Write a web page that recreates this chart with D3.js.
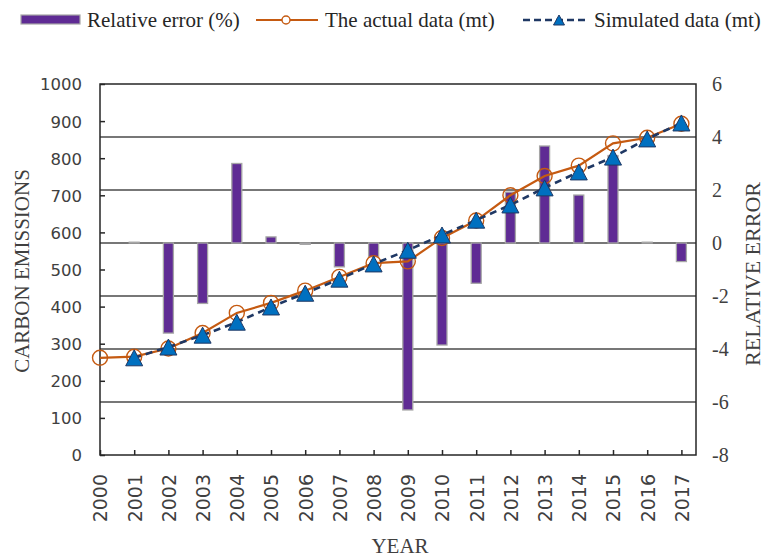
<!DOCTYPE html>
<html>
<head>
<meta charset="utf-8">
<script src="https://cdn.jsdelivr.net/npm/d3@7"></script>
<style>
  body { margin: 0; background: #fff; }
  svg { display: block; }
</style>
</head>
<body>
<script>
// values
var years = [2000, 2001, 2002, 2003, 2004, 2005, 2006, 2007, 2008,
             2009, 2010, 2011, 2012, 2013, 2014, 2015, 2016, 2017];
var actual = [262, 265, 287, 329, 383, 410, 443, 480, 517,
              522, 585, 632, 700, 752, 780, 840, 855, 893];
var simulated = [null, 262, 291, 323, 358, 399, 436, 474, 515,
                 552, 593, 633, 674, 720, 763, 803, 852, 895];
var relErr = [null, 0.03, -3.4, -2.28, 3.0, 0.23, -0.05, -0.9, -0.52,
              -6.3, -3.85, -1.52, 1.92, 3.66, 1.81, 3.3, 0.03, -0.7];
var leftTicks = [0, 100, 200, 300, 400, 500, 600, 700, 800, 900, 1000];
var rightTicks = [-8, -6, -4, -2, 0, 2, 4, 6];

var W = 767, H = 560;
var plot = {left: 100, right: 696, top: 84, bottom: 455};

var orange = "#c55a11", navy = "#1f3864", blue = "#0070c0",
    purple = "#5f2b94", grid = "#4a4a4a";

var svg = d3.select("body").append("svg")
    .attr("width", W)
    .attr("height", H);

var x = d3.scaleLinear()
    .domain([2000, 2000 + (plot.right - plot.left) / 34.2])
    .range([plot.left, plot.right]);
var yL = d3.scaleLinear().domain([0, 1000]).range([plot.bottom, plot.top]);
var yR = d3.scaleLinear().domain([-8, 6]).range([plot.bottom, plot.top]);

// horizontal grid (from right axis)
svg.append("g")
    .selectAll("line")
    .data(rightTicks.filter(d => d > -8 && d < 6))
    .enter().append("line")
        .attr("x1", plot.left).attr("x2", plot.right)
        .attr("y1", d => yR(d)).attr("y2", d => yR(d))
        .attr("stroke", grid)
        .attr("stroke-width", 1.5);

// bars (relative error)
var barW = 10;
svg.append("g")
    .selectAll("rect")
    .data(years.map((y, i) => ({year: y, v: relErr[i]})).filter(d => d.v != null))
    .enter().append("rect")
        .attr("x", d => x(d.year) - barW / 2)
        .attr("y", d => yR(Math.max(0, d.v)))
        .attr("width", barW)
        .attr("height", d => Math.abs(yR(d.v) - yR(0)))
        .attr("fill", purple)
        .attr("stroke", "#a6a6a6")
        .attr("stroke-width", 1.3);

// frame
svg.append("rect")
    .attr("x", plot.left).attr("y", plot.top)
    .attr("width", plot.right - plot.left)
    .attr("height", plot.bottom - plot.top)
    .attr("fill", "none")
    .attr("stroke", "#262626")
    .attr("stroke-width", 1.5);

// left axis
var leftAxis = svg.append("g")
    .attr("transform", "translate(" + plot.left + ",0)")
    .call(d3.axisRight(yL).tickValues(leftTicks).tickSize(5).tickFormat(d => String(d)));
leftAxis.select(".domain").remove();
leftAxis.selectAll("line").attr("stroke", "#262626").attr("stroke-width", 1.5);
leftAxis.selectAll("text")
    .attr("x", -18)
    .attr("text-anchor", "end")
    .attr("dy", "0.36em")
    .style("font-family", "'DejaVu Sans', sans-serif")
    .style("font-size", "16.5px")
    .attr("fill", "#404040");

// right axis labels (plain hyphen minus, as in the picture)
var rightAxis = svg.append("g")
    .attr("transform", "translate(" + plot.right + ",0)")
    .call(d3.axisRight(yR).tickValues(rightTicks).tickSize(0).tickPadding(16).tickFormat(d => String(d)));
rightAxis.select(".domain").remove();
rightAxis.selectAll("text")
    .attr("dy", "0.34em")
    .style("font-family", "'Liberation Serif', 'Times New Roman', serif")
    .style("font-size", "20px")
    .attr("fill", "#404040");

// x axis
var xAxis = svg.append("g")
    .attr("transform", "translate(0," + plot.bottom + ")")
    .call(d3.axisTop(x).tickValues(years).tickSize(5).tickFormat(d => String(d)));
xAxis.select(".domain").remove();
xAxis.selectAll("line").attr("stroke", "#262626").attr("stroke-width", 1.5);
xAxis.selectAll("text")
    .attr("transform", "rotate(-90)")
    .attr("x", -19)
    .attr("y", 0)
    .attr("dy", "0.36em")
    .attr("text-anchor", "end")
    .style("font-family", "'DejaVu Sans', sans-serif")
    .style("font-size", "19px")
    .attr("fill", "#404040");

// actual data line
var actualPts = years.map((y, i) => ({year: y, v: actual[i]}));
svg.append("path")
    .datum(actualPts)
    .attr("fill", "none")
    .attr("stroke", orange)
    .attr("stroke-width", 2.2)
    .attr("d", d3.line().x(d => x(d.year)).y(d => yL(d.v)));
svg.append("g")
    .selectAll("circle")
    .data(actualPts)
    .enter().append("circle")
        .attr("cx", d => x(d.year))
        .attr("cy", d => yL(d.v))
        .attr("r", 7.5)
        .attr("fill", "none")
        .attr("stroke", orange)
        .attr("stroke-width", 1.4);

// simulated data line
var simPts = years.map((y, i) => ({year: y, v: simulated[i]})).filter(d => d.v != null);
svg.append("path")
    .datum(simPts)
    .attr("fill", "none")
    .attr("stroke", navy)
    .attr("stroke-width", 2.6)
    .attr("stroke-dasharray", "7,5")
    .attr("d", d3.line().x(d => x(d.year)).y(d => yL(d.v)));

function tri(cx, cy, w, h) {
    return "M" + cx + "," + (cy - h / 2) +
        "L" + (cx + w / 2) + "," + (cy + h / 2) +
        "L" + (cx - w / 2) + "," + (cy + h / 2) + "Z";
}
svg.append("g")
    .selectAll("path")
    .data(simPts)
    .enter().append("path")
        .attr("d", d => tri(x(d.year), yL(d.v), 17, 16))
        .attr("fill", blue)
        .attr("stroke", navy)
        .attr("stroke-width", 1);

// axis titles
var serif = "'Liberation Serif', 'Times New Roman', serif";
svg.append("text")
    .attr("transform", "translate(29,271) rotate(-90)")
    .attr("text-anchor", "middle")
    .style("font-family", serif)
    .style("font-size", "21px")
    .attr("fill", "#404040")
    .text("CARBON EMISSIONS");
svg.append("text")
    .attr("transform", "translate(760,274) rotate(-90)")
    .attr("text-anchor", "middle")
    .style("font-family", serif)
    .style("font-size", "22px")
    .attr("fill", "#404040")
    .text("RELATIVE ERROR");
svg.append("text")
    .attr("x", 400)
    .attr("y", 553)
    .attr("text-anchor", "middle")
    .style("font-family", serif)
    .style("font-size", "21px")
    .attr("fill", "#404040")
    .text("YEAR");

// legend
var leg = svg.append("g");
leg.append("rect")
    .attr("x", 21).attr("y", 15).attr("width", 59).attr("height", 9)
    .attr("fill", purple).attr("stroke", "#a6a6a6").attr("stroke-width", 1.2);
leg.append("text").attr("x", 87).attr("y", 27).text("Relative error (%)");

leg.append("line")
    .attr("x1", 256).attr("x2", 318).attr("y1", 20).attr("y2", 20)
    .attr("stroke", orange).attr("stroke-width", 2.2);
leg.append("circle")
    .attr("cx", 286).attr("cy", 20).attr("r", 4)
    .attr("fill", "#fff").attr("stroke", orange).attr("stroke-width", 1.4);
leg.append("text").attr("x", 325).attr("y", 27).text("The actual data (mt)");

leg.append("line")
    .attr("x1", 523).attr("x2", 588).attr("y1", 20).attr("y2", 20)
    .attr("stroke", navy).attr("stroke-width", 2.6).attr("stroke-dasharray", "7,4");
leg.append("path")
    .attr("d", tri(559, 20, 11, 10))
    .attr("fill", blue).attr("stroke", navy).attr("stroke-width", 1);
leg.append("text").attr("x", 594).attr("y", 27).text("Simulated data (mt)");

leg.selectAll("text")
    .style("font-family", serif)
    .style("font-size", "21px")
    .attr("fill", "#262626");
</script>
</body>
</html>
